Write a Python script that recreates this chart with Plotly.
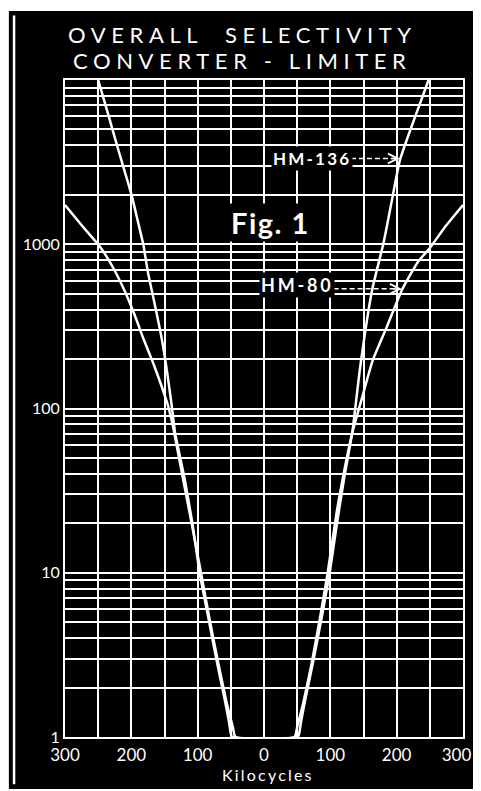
import plotly.graph_objects as go

# Kilocycles off resonance and relative attenuation
hm136_kc = [-262, -250, -235, -220, -205, -199, -190, -182, -175, -164, -154, -146, -139, -134,
            -120, -108, -97, -85, -72, -60, -53, -50, -48,
            51, 53, 56, 63, 75, 88, 99, 110, 121, 133, 145, 163, 180,
            192, 205, 226, 248, 258]
hm136_val = [14500, 10000, 6200, 3800, 2370, 1950, 1370, 1000, 675, 418, 264, 166, 103, 71,
             38, 20, 10, 5.6, 3.0, 1.75, 1.25, 1.05, 1.0,
             1.0, 1.05, 1.25, 1.75, 3.0, 5.6, 10, 20, 38, 71, 179, 527, 1010,
             1780, 3260, 5700, 10000, 13500]

hm80_kc = [-300, -274, -247, -228, -210, -195, -181, -167, -155, -145, -137,
           -125, -112, -95, -82, -68, -56, -47, -43,
           46, 50, 59, 71, 84, 96, 110, 120, 133, 148, 164, 185, 208, 232, 250, 274, 300]
hm80_val = [1734, 1291, 962, 727, 519, 371, 261, 189, 139, 105, 77,
            43, 23, 10, 5.2, 2.7, 1.6, 1.15, 1.0,
            1.0, 1.15, 1.6, 2.7, 5.2, 10, 24, 40, 71, 117, 197, 313, 527, 780, 949, 1291, 1734]

x_ticks = [-300, -200, -100, 0, 100, 200, 300]
# trailing no-break spaces pull the last label left so it stays on the page
x_labels = ["300", "200", "100", "0", "100", "200", "300\u00a0\u00a0\u00a0"]
y_ticks = [1, 10, 100, 1000]
y_labels = ["1", "10", "100", "1000"]

FONT = "Lato"


def spaced(text, px):
    return '<span style="letter-spacing:%spx">%s</span>' % (px, text)


fig = go.Figure()
fig.add_trace(go.Scatter(x=hm80_kc, y=hm80_val, mode="lines", line=dict(color="white", width=2.5, shape="spline", smoothing=0.5), showlegend=False))
fig.add_trace(go.Scatter(x=hm136_kc, y=hm136_val, mode="lines", line=dict(color="white", width=2.5, shape="spline", smoothing=0.5), showlegend=False))

# dashed leader lines for the labels
fig.add_trace(go.Scatter(x=[131, 200], y=[3330, 3330], mode="lines",
                         line=dict(color="white", width=1.5, dash="5px,3px"), showlegend=False))
fig.add_trace(go.Scatter(x=[105, 203], y=[535, 535], mode="lines",
                         line=dict(color="white", width=1.5, dash="5px,3px"), showlegend=False))

minor_y = [m * 10 ** k for k in range(4) for m in range(2, 10)]

fig.update_xaxes(range=[-300, 300], tickvals=x_ticks, ticktext=x_labels,
                 showgrid=True, gridcolor="white", gridwidth=1.5,
                 minor=dict(tickvals=[-250, -150, -50, 50, 150, 250], showgrid=True,
                            gridcolor="white", gridwidth=1.5),
                 zeroline=False, showline=True, linecolor="white", linewidth=2, mirror=True,
                 automargin=False, ticklabelstandoff=2, ticklabeloverflow="allow",
                 tickfont=dict(family=FONT, size=17, color="white"))
fig.update_yaxes(type="log", range=[0, 4], tickvals=y_ticks, ticktext=y_labels,
                 showgrid=True, gridcolor="white", gridwidth=1.5,
                 minor=dict(tickvals=minor_y, showgrid=True, gridcolor="white", gridwidth=1.5),
                 zeroline=False, showline=True, linecolor="white", linewidth=2, mirror=True,
                 automargin=False,
                 tickfont=dict(family=FONT, size=16, color="white"))

# black panel behind everything
fig.add_shape(type="rect", xref="paper", yref="paper", x0=-0.141, x1=1.035, y0=-0.079, y1=1.105,
              fillcolor="black", line=dict(color="black", width=0), layer="below")
fig.add_shape(type="line", xref="paper", yref="paper", x0=-0.128, x1=-0.128, y0=-0.072, y1=1.098,
              line=dict(color="white", width=2.5), layer="below")

fig.add_annotation(text=spaced("OVERALL  SELECTIVITY", 5.6), xref="paper", yref="paper", x=0.447, y=1.070,
                   yanchor="middle", showarrow=False, font=dict(family=FONT, size=22, color="white"))
fig.add_annotation(text=spaced("CONVERTER - LIMITER", 5.6), xref="paper", yref="paper", x=0.447, y=1.029,
                   yanchor="middle", showarrow=False, font=dict(family=FONT, size=22, color="white"))
fig.add_annotation(text=spaced("Kilocycles", 2.2), xref="paper", yref="paper", x=0.51, y=-0.057,
                   yanchor="middle", showarrow=False, font=dict(family=FONT, size=16, color="white"))

fig.add_annotation(text=spaced("<b>Fig. 1</b>", 1.5), x=10, y=3.13, showarrow=False, bgcolor="black",
                   font=dict(family=FONT, size=29, color="white"))
fig.add_annotation(text=spaced("<b>HM-136</b>", 2.2), x=73, y=3.525, showarrow=False, bgcolor="black",
                   font=dict(family=FONT, size=17, color="white"))
fig.add_annotation(text=spaced("<b>HM-80</b>", 2.8), x=50, y=2.752, showarrow=False, bgcolor="black",
                   font=dict(family=FONT, size=18, color="white"))
# arrow heads
fig.add_annotation(text="", x=205, y=3.522, ax=-10, ay=0, showarrow=True,
                   arrowhead=5, arrowsize=1.3, arrowwidth=1.5, arrowcolor="white")
fig.add_annotation(text="", x=208, y=2.728, ax=-10, ay=0, showarrow=True,
                   arrowhead=5, arrowsize=1.3, arrowwidth=1.5, arrowcolor="white")

# the page body adds an 8px margin, so the figure is 8px smaller than the window
fig.update_layout(width=473, height=783, margin=dict(l=57, r=18, t=72, b=54),
                  paper_bgcolor="white", plot_bgcolor="black", showlegend=False)

fig.write_html("out.html")
